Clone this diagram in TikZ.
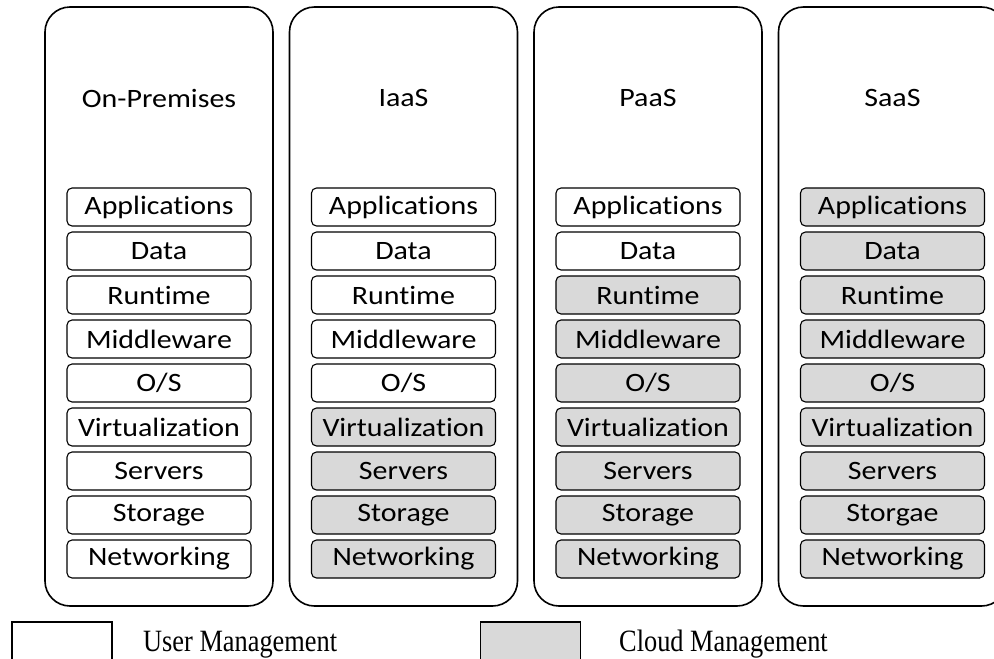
\documentclass[tikz,border=0pt]{standalone}
\usepackage{fontspec}
\newfontfamily\layerfont{Carlito}[FakeStretch=1.13, Ligatures=NoCommon]
\newfontfamily\legendfont{Liberation Serif}[FakeStretch=0.85]
\definecolor{cloudgray}{RGB}{217,217,217}
\usetikzlibrary{positioning}
\tikzset{
  column/.style={draw, line width=1.6pt, rounded corners=25pt, minimum width=228pt, minimum height=599pt, inner sep=0pt},
  coltitle/.style={font=\layerfont\fontsize{26.5}{30}\selectfont},
  userlayer/.style={draw, line width=1.1pt, rounded corners=5pt, fill=white, minimum width=184pt, minimum height=38pt, inner sep=0pt, font=\layerfont\fontsize{26.5}{30}\selectfont},
  cloudlayer/.style={userlayer, fill=cloudgray},
  legendbox/.style={draw, line width=1.4pt, minimum width=100pt, minimum height=60pt, inner sep=0pt},
  legendtext/.style={anchor=base west, inner sep=0pt, font=\legendfont\fontsize{31}{34}\selectfont}
}
\begin{document}
\begin{tikzpicture}[x=1pt, y=-1pt]
    \useasboundingbox (0,0) rectangle (994,659);
    \clip (0,0) rectangle (994,659);

    % Four columns
    \node[column] (onprem) at (159,306.5) {};
    \node[column] (iaas) at (403.5,306.5) {};
    \node[column] (paas) at (648,306.5) {};
    \node[column] (saas) at (892.5,306.5) {};

    % Column titles
    \node[coltitle] (onpremtitle) at (159,98) {On-Premises};
    \node[coltitle] (iaastitle) at (403.5,98) {IaaS};
    \node[coltitle] (paastitle) at (648,98) {PaaS};
    \node[coltitle] (saastitle) at (892.5,98) {SaaS};

    % On-Premises stack
    \node[userlayer] (opapps) at (159,207) {Applications};
    \node[userlayer] (opdata) at (159,251) {Data};
    \node[userlayer] (oprun) at (159,295) {Runtime};
    \node[userlayer] (opmid) at (159,339) {Middleware};
    \node[userlayer] (opos) at (159,383) {O/S};
    \node[userlayer] (opvirt) at (159,427) {Virtualization};
    \node[userlayer] (opserv) at (159,471) {Servers};
    \node[userlayer] (opstor) at (159,515) {Storage};
    \node[userlayer] (opnet) at (159,559) {Networking};

    % IaaS stack
    \node[userlayer] (iaapps) at (403.5,207) {Applications};
    \node[userlayer] (iadata) at (403.5,251) {Data};
    \node[userlayer] (iarun) at (403.5,295) {Runtime};
    \node[userlayer] (iamid) at (403.5,339) {Middleware};
    \node[userlayer] (iaos) at (403.5,383) {O/S};
    \node[cloudlayer] (iavirt) at (403.5,427) {Virtualization};
    \node[cloudlayer] (iaserv) at (403.5,471) {Servers};
    \node[cloudlayer] (iastor) at (403.5,515) {Storage};
    \node[cloudlayer] (ianet) at (403.5,559) {Networking};

    % PaaS stack
    \node[userlayer] (paapps) at (648,207) {Applications};
    \node[userlayer] (padata) at (648,251) {Data};
    \node[cloudlayer] (parun) at (648,295) {Runtime};
    \node[cloudlayer] (pamid) at (648,339) {Middleware};
    \node[cloudlayer] (paos) at (648,383) {O/S};
    \node[cloudlayer] (pavirt) at (648,427) {Virtualization};
    \node[cloudlayer] (paserv) at (648,471) {Servers};
    \node[cloudlayer] (pastor) at (648,515) {Storage};
    \node[cloudlayer] (panet) at (648,559) {Networking};

    % SaaS stack
    \node[cloudlayer] (saapps) at (892.5,207) {Applications};
    \node[cloudlayer] (sadata) at (892.5,251) {Data};
    \node[cloudlayer] (sarun) at (892.5,295) {Runtime};
    \node[cloudlayer] (samid) at (892.5,339) {Middleware};
    \node[cloudlayer] (saos) at (892.5,383) {O/S};
    \node[cloudlayer] (savirt) at (892.5,427) {Virtualization};
    \node[cloudlayer] (saserv) at (892.5,471) {Servers};
    \node[cloudlayer] (sastor) at (892.5,515) {Storgae};
    \node[cloudlayer] (sanet) at (892.5,559) {Networking};

    % Legend
    \node[legendbox] (userkey) at (62,652) {};
    \node[legendtext] (usertext) at (143,651) {User Management};
    \node[legendbox, fill=cloudgray] (cloudkey) at (530.5,652) {};
    \node[legendtext] (cloudtext) at (619,651) {Cloud Management};
\end{tikzpicture}
\end{document}
